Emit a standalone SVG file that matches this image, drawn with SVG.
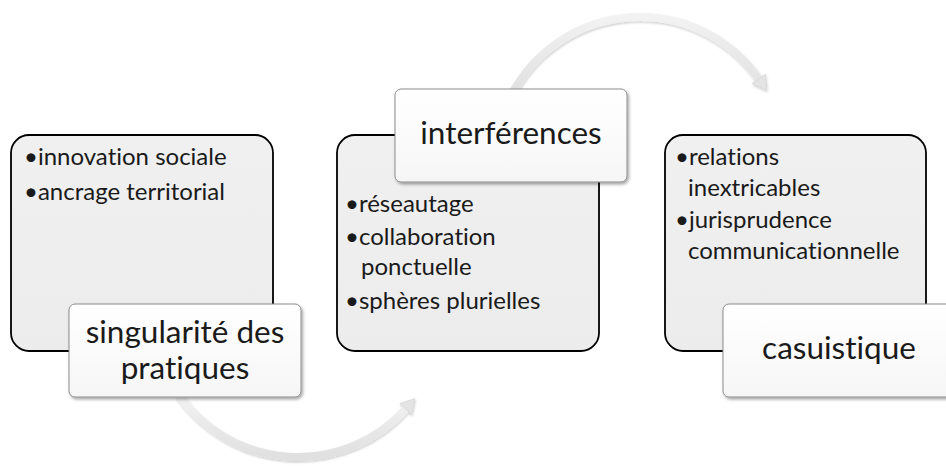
<svg xmlns="http://www.w3.org/2000/svg" width="946" height="466" viewBox="0 0 946 466">
<defs>
<style>
.big{fill:url(#gBig);stroke:#000;stroke-width:1.8}
.lab{fill:url(#gLab);stroke:#8c8c8c;stroke-width:1;filter:url(#sh)}
text{font-family:Lato,"Open Sans",sans-serif;fill:#1a1a1a;font-variant-ligatures:none}
.lt{font-size:31.5px;text-anchor:middle}
.bt{font-size:24px}
.arc{fill:none;stroke:url(#gArc);stroke-width:8}
.head{fill:#e4e4e4;stroke:#d6d6d6;stroke-width:0.8}
</style>
<linearGradient id="gBig" x1="0" y1="0" x2="0" y2="1"><stop offset="0" stop-color="#f0f0f0"/><stop offset="1" stop-color="#ececec"/></linearGradient>
<linearGradient id="gLab" x1="0" y1="0" x2="0" y2="1"><stop offset="0" stop-color="#ffffff"/><stop offset="1" stop-color="#f6f6f6"/></linearGradient>
<linearGradient id="gArc" x1="0" y1="0" x2="0" y2="1"><stop offset="0" stop-color="#f2f2f2"/><stop offset="1" stop-color="#e0e0e0"/></linearGradient>
<filter id="sh" x="-10%" y="-10%" width="125%" height="130%"><feDropShadow dx="1.5" dy="2" stdDeviation="1.5" flood-color="#000" flood-opacity="0.35"/></filter>
<filter id="ash" x="-10%" y="-10%" width="125%" height="130%"><feDropShadow dx="0.5" dy="1.5" stdDeviation="1" flood-color="#000" flood-opacity="0.2"/></filter>
</defs>
<rect width="946" height="466" fill="#fff"/>
<g id="connectors" filter="url(#ash)">
<path class="arc" d="M179,395 A145,145 0 0 0 405.8,409"/>
<polygon class="head" points="415,398.6 411.7,414.4 399.9,403.6"/>
<path class="arc" d="M512,94 A145,145 0 0 1 758.8,78.8"/>
<polygon class="head" points="766.8,90.3 765.5,74.2 752.1,83.4"/>
</g>
<g id="node1">
<rect class="big" x="11" y="135" width="262" height="216" rx="18"/>
<text class="bt" x="24" y="165">•innovation sociale</text>
<text class="bt" x="24" y="200">•ancrage territorial</text>
</g>
<g id="label1">
<rect class="lab" x="69" y="304" width="232" height="93" rx="6"/>
<text class="lt" x="185" y="343">singularité des</text>
<text class="lt" x="185" y="379">pratiques</text>
</g>
<g id="node2">
<rect class="big" x="337" y="135" width="262" height="216" rx="18"/>
<text class="bt" x="345" y="212">•réseautage</text>
<text class="bt" x="345" y="245">•collaboration</text>
<text class="bt" x="361" y="275">ponctuelle</text>
<text class="bt" x="345" y="309">•sphères plurielles</text>
</g>
<g id="label2">
<rect class="lab" x="395" y="89" width="232" height="93" rx="6"/>
<text class="lt" x="511" y="144">interférences</text>
</g>
<g id="node3">
<rect class="big" x="665" y="135" width="261" height="216" rx="18"/>
<text class="bt" x="675" y="165">•relations</text>
<text class="bt" x="688" y="196">inextricables</text>
<text class="bt" x="675" y="228">•jurisprudence</text>
<text class="bt" x="688" y="259">communicationnelle</text>
</g>
<g id="label3">
<rect class="lab" x="723" y="304" width="232" height="93" rx="6"/>
<text class="lt" x="839" y="359">casuistique</text>
</g>
</svg>
